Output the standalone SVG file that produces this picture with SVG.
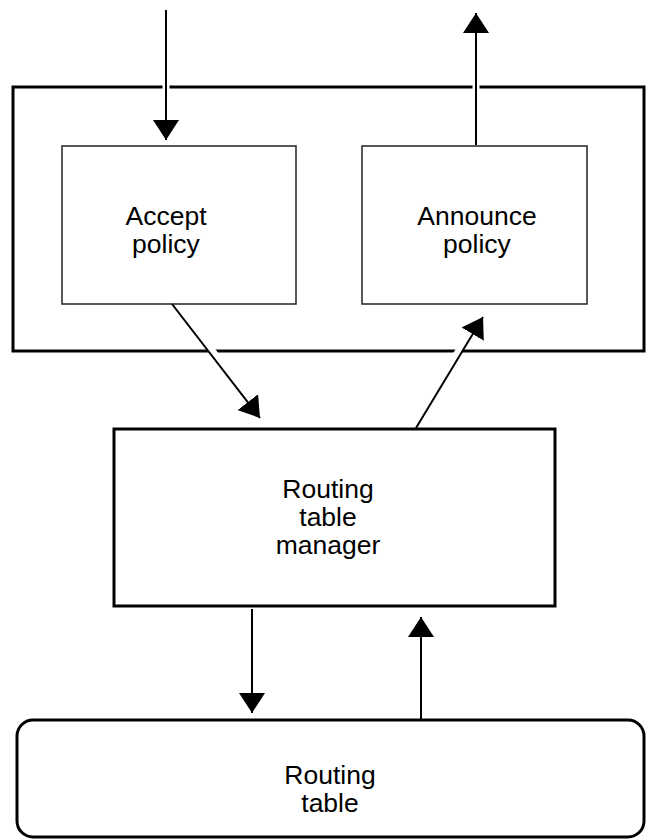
<svg xmlns="http://www.w3.org/2000/svg" width="650" height="839" viewBox="0 0 650 839">
  <style>
    .thick { fill: #fff; stroke: #000; stroke-width: 3; }
    .thin { fill: #fff; stroke: #222; stroke-width: 1.5; }
    .label { font-family: "Liberation Sans", Arial, sans-serif; font-size: 26.5px; fill: #000; text-anchor: middle; }
    .halo { stroke: #fff; stroke-width: 7; fill: none; }
    .wire { stroke: #000; stroke-width: 2; fill: none; }
  </style>
  <defs>
    <marker id="head" markerUnits="userSpaceOnUse" viewBox="0 0 20 26" refX="20" refY="13" markerWidth="20" markerHeight="26" orient="auto">
      <path d="M0,0 L20,13 L0,26 Z" fill="#000"/>
    </marker>
  </defs>

  <g id="bgp-speaker">
    <rect class="thick" x="13" y="87" width="631" height="264"/>
  </g>
  <g id="accept-policy">
    <rect class="thin" x="62" y="146" width="234" height="158"/>
    <text class="label" x="166" y="225">Accept</text>
    <text class="label" x="166" y="253">policy</text>
  </g>
  <g id="announce-policy">
    <rect class="thin" x="362" y="146" width="225" height="158"/>
    <text class="label" x="477" y="225">Announce</text>
    <text class="label" x="477" y="253">policy</text>
  </g>
  <g id="routing-table-manager">
    <rect class="thick" x="114" y="429" width="441" height="177"/>
    <text class="label" x="328" y="498">Routing</text>
    <text class="label" x="328" y="526">table</text>
    <text class="label" x="328" y="554">manager</text>
  </g>
  <g id="routing-table">
    <rect class="thick" x="17" y="720" width="627" height="117" rx="16" ry="16"/>
    <text class="label" x="330" y="784">Routing</text>
    <text class="label" x="330" y="812">table</text>
  </g>

  <g id="connectors">
    <!-- white halos break the box outlines where the arrows cross -->
    <line class="halo" x1="166" y1="60" x2="166" y2="110"/>
    <line class="halo" x1="476" y1="60" x2="476" y2="110"/>
    <line class="halo" x1="205" y1="340" x2="220" y2="362"/>
    <line class="halo" x1="452" y1="362" x2="465" y2="340"/>

    <line class="wire" x1="166" y1="10" x2="166" y2="140" marker-end="url(#head)"/>
    <line class="wire" x1="476" y1="145" x2="476" y2="13" marker-end="url(#head)"/>
    <line class="wire" x1="172" y1="304" x2="260" y2="418" marker-end="url(#head)"/>
    <line class="wire" x1="416" y1="428" x2="483" y2="317" marker-end="url(#head)"/>
    <line class="wire" x1="252" y1="609" x2="252" y2="713" marker-end="url(#head)"/>
    <line class="wire" x1="421" y1="719" x2="421" y2="617" marker-end="url(#head)"/>
  </g>
</svg>
